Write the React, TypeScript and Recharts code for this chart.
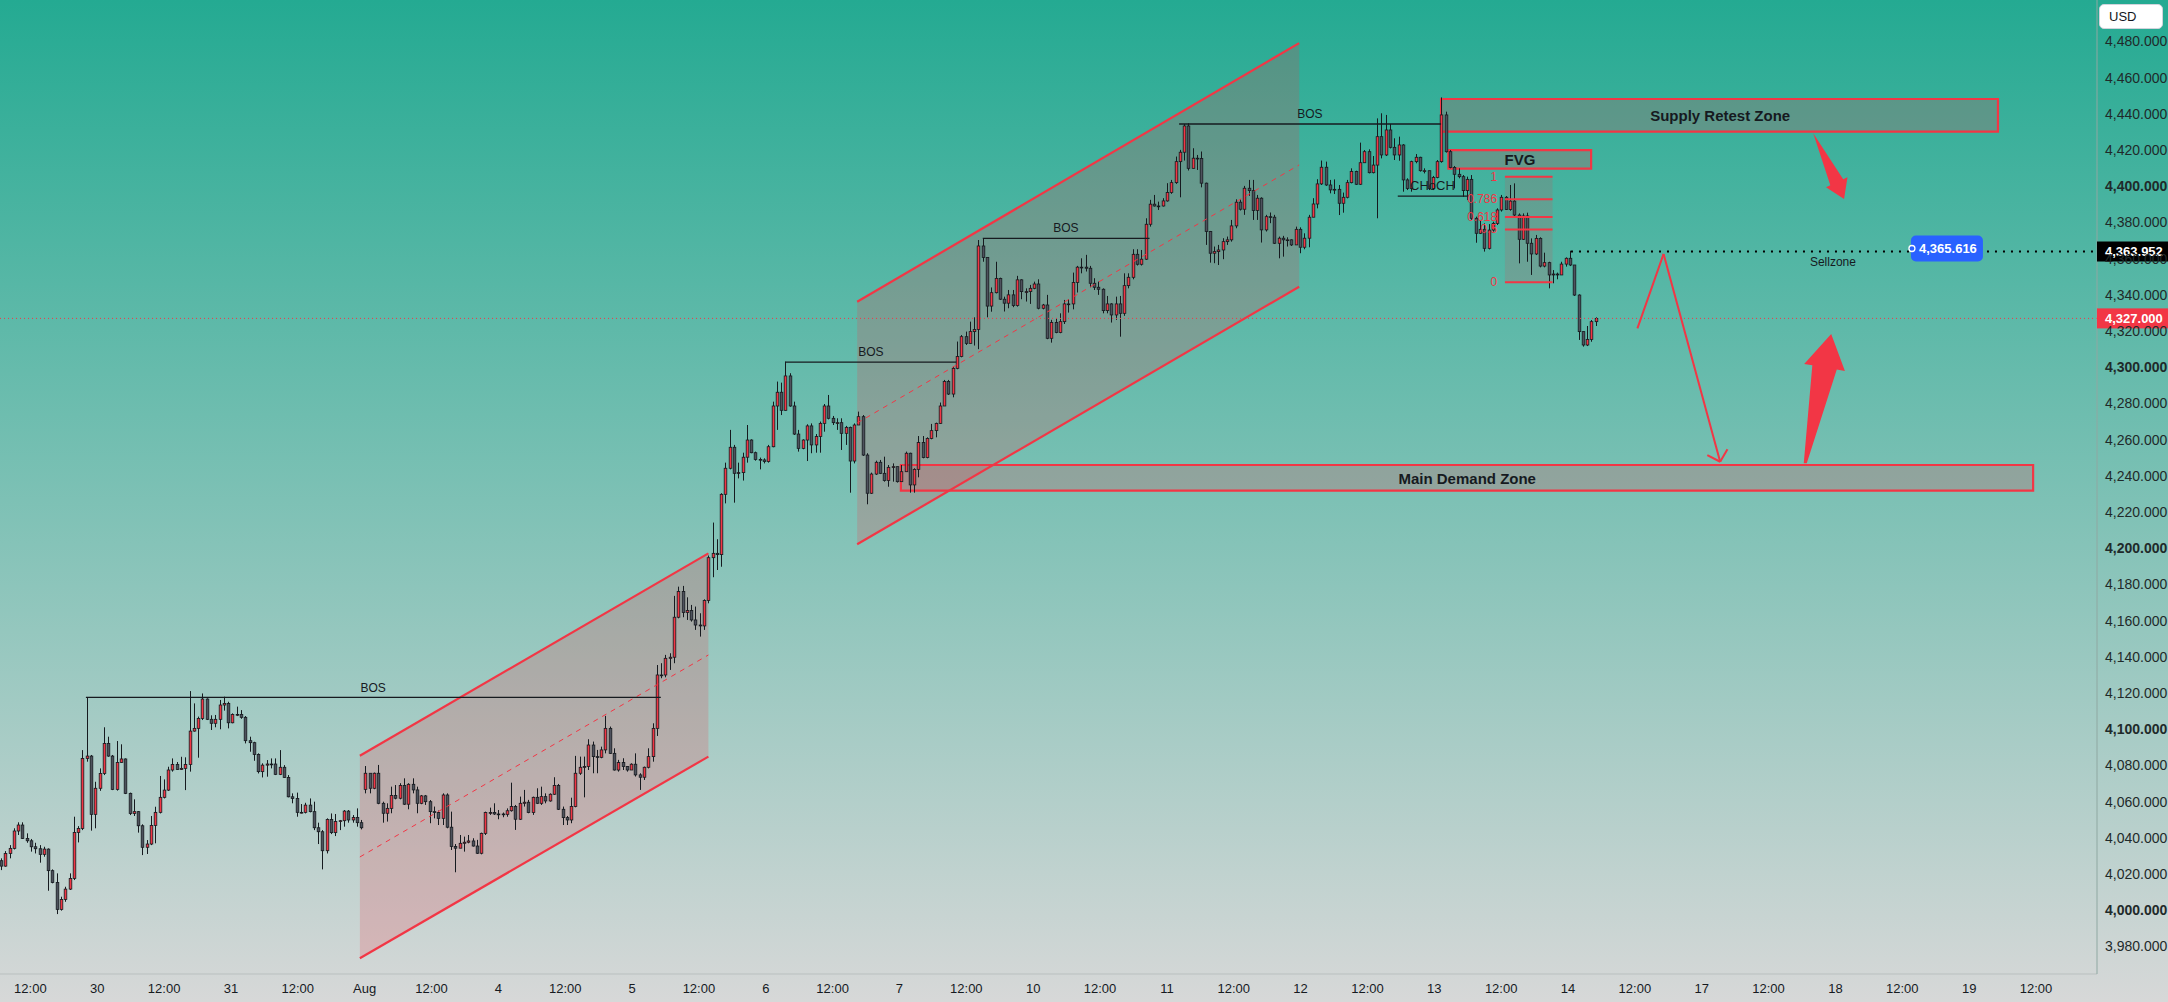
import React from "react";
import {
  ComposedChart,
  Bar,
  XAxis,
  YAxis,
  ReferenceLine,
  ReferenceArea,
  ReferenceDot,
} from "recharts";

// ---- data (45 min candles, XAUUSD style) ----
const FIRST_OPEN = 4027.4;
// weekend gap: candle index -> open price
const GAP_OPENS: [number, number][] = [[85, 4066.8]];

const CLOSES = [
  4024.4, 4031.4, 4034.2, 4043.8, 4047.1, 4039.7, 4038.4, 4035.1, 4034.0, 4030.9,
  4033.8, 4021.9, 4015.4, 4000.5, 4006.0, 4011.7, 4017.6, 4043.0, 4045.2, 4083.9,
  4085.2, 4053.0, 4067.4, 4075.6, 4092.2, 4085.2, 4066.8, 4081.7, 4083.6, 4064.6,
  4053.5, 4054.5, 4046.7, 4034.8, 4036.6, 4046.9, 4054.1, 4062.4, 4066.4, 4077.5,
  4080.6, 4077.8, 4078.4, 4080.6, 4099.0, 4100.5, 4106.0, 4116.7, 4105.5, 4103.3,
  4105.5, 4113.4, 4114.3, 4103.6, 4108.2, 4108.2, 4106.6, 4093.7, 4092.6, 4086.1,
  4076.6, 4080.2, 4080.8, 4080.8, 4075.1, 4079.0, 4073.4, 4062.7, 4061.8, 4054.1,
  4054.1, 4058.1, 4054.5, 4045.6, 4043.4, 4032.9, 4050.2, 4042.9, 4049.0, 4049.5,
  4054.8, 4049.9, 4051.3, 4048.4, 4045.6, 4075.7, 4067.4, 4075.7, 4059.1, 4053.6,
  4056.3, 4063.4, 4061.9, 4068.9, 4058.6, 4069.6, 4066.5, 4059.1, 4063.2, 4060.0,
  4054.5, 4054.0, 4050.8, 4063.7, 4045.9, 4035.2, 4034.3, 4037.0, 4037.6, 4038.3,
  4035.5, 4031.5, 4042.5, 4054.0, 4054.0, 4053.2, 4053.2, 4053.0, 4055.0, 4057.3,
  4050.3, 4059.1, 4059.7, 4054.0, 4062.4, 4059.1, 4062.8, 4060.4, 4064.1, 4068.9,
  4055.8, 4051.2, 4049.9, 4057.3, 4075.7, 4079.0, 4079.4, 4091.3, 4084.9, 4084.5,
  4088.6, 4100.5, 4086.7, 4077.5, 4081.6, 4079.4, 4077.5, 4080.7, 4074.8, 4073.5,
  4079.0, 4084.9, 4100.5, 4130.0, 4130.0, 4139.2, 4139.8, 4161.9, 4176.1, 4164.5,
  4165.6, 4160.4, 4157.6, 4157.1, 4171.1, 4194.8, 4197.2, 4196.5, 4229.8, 4244.2,
  4255.8, 4241.4, 4241.8, 4250.3, 4259.8, 4252.8, 4249.1, 4248.8, 4247.9, 4256.1,
  4278.6, 4286.2, 4276.2, 4295.2, 4278.6, 4263.1, 4255.2, 4259.8, 4267.6, 4257.1,
  4261.7, 4269.0, 4278.6, 4271.8, 4269.4, 4269.4, 4263.5, 4266.8, 4248.2, 4268.1,
  4272.7, 4251.5, 4230.4, 4241.0, 4247.5, 4241.4, 4237.4, 4244.7, 4245.1, 4236.8,
  4242.3, 4252.5, 4235.0, 4243.6, 4258.4, 4250.1, 4260.7, 4265.0, 4269.0, 4278.6,
  4292.1, 4285.2, 4299.4, 4305.9, 4316.9, 4313.2, 4319.7, 4320.9, 4367.0, 4360.7,
  4333.8, 4341.2, 4349.1, 4337.6, 4335.4, 4340.0, 4334.1, 4348.3, 4341.8, 4341.8,
  4343.6, 4346.0, 4332.6, 4334.4, 4316.0, 4324.7, 4319.2, 4325.2, 4335.0, 4335.0,
  4346.8, 4355.3, 4355.3, 4354.7, 4346.4, 4344.2, 4343.1, 4331.3, 4335.0, 4328.9,
  4335.0, 4329.8, 4345.1, 4349.7, 4362.4, 4356.9, 4359.7, 4379.0, 4390.1, 4389.1,
  4389.1, 4391.9, 4396.5, 4402.0, 4413.6, 4418.8, 4433.3, 4409.9, 4415.5, 4415.3,
  4401.7, 4375.0, 4363.0, 4363.9, 4364.8, 4369.4, 4370.4, 4378.1, 4391.2, 4387.3,
  4398.9, 4397.6, 4386.6, 4393.4, 4375.9, 4383.2, 4382.9, 4368.5, 4371.3, 4370.4,
  4370.4, 4367.6, 4376.2, 4366.3, 4371.3, 4382.9, 4390.2, 4401.3, 4410.5, 4400.7,
  4398.0, 4398.3, 4390.6, 4393.9, 4402.0, 4408.1, 4401.1, 4413.0, 4419.1, 4407.5,
  4411.7, 4427.4, 4417.3, 4431.1, 4421.5, 4417.3, 4422.8, 4403.5, 4398.8, 4413.6,
  4416.0, 4408.6, 4408.6, 4398.8, 4404.9, 4413.6, 4439.4, 4419.1, 4410.4, 4406.6,
  4405.3, 4397.6, 4403.8, 4382.3, 4374.0, 4376.2, 4365.7, 4375.8, 4379.5, 4386.9,
  4393.9, 4387.2, 4391.8, 4384.1, 4370.7, 4383.6, 4368.5, 4362.6, 4371.2, 4355.9,
  4357.8, 4351.0, 4351.5, 4351.0, 4357.0, 4360.2, 4356.5, 4339.9, 4319.7, 4312.3,
  4315.4, 4325.2, 4327.0,
];

const HIGHS = [
  4028.7, 4032.7, 4036.0, 4045.3, 4048.6, 4048.6, 4042.5, 4039.4, 4037.3, 4036.0,
  4035.1, 4034.2, 4022.6, 4020.4, 4007.5, 4013.0, 4020.4, 4051.7, 4046.5, 4088.5,
  4117.6, 4085.8, 4071.0, 4078.4, 4101.1, 4095.9, 4085.8, 4093.5, 4091.7, 4083.9,
  4065.0, 4061.3, 4054.8, 4047.5, 4038.8, 4052.1, 4057.2, 4074.2, 4072.3, 4079.3,
  4083.9, 4081.9, 4084.8, 4084.5, 4121.1, 4114.3, 4107.0, 4119.8, 4117.1, 4107.7,
  4107.9, 4116.2, 4118.0, 4115.2, 4108.8, 4112.5, 4110.6, 4107.3, 4095.9, 4093.1,
  4086.7, 4081.2, 4083.0, 4083.9, 4083.9, 4088.5, 4080.2, 4074.7, 4064.6, 4065.0,
  4058.7, 4059.4, 4061.8, 4060.0, 4048.4, 4044.3, 4050.8, 4053.5, 4053.2, 4049.9,
  4055.4, 4055.4, 4052.6, 4056.3, 4049.9, 4079.7, 4070.2, 4076.1, 4080.3, 4060.0,
  4059.1, 4068.3, 4069.2, 4070.2, 4072.9, 4070.2, 4072.9, 4068.3, 4063.7, 4063.7,
  4060.9, 4057.3, 4055.1, 4064.6, 4064.6, 4054.5, 4036.6, 4041.6, 4040.7, 4041.6,
  4039.8, 4038.9, 4042.9, 4054.5, 4056.7, 4059.1, 4055.4, 4054.0, 4056.3, 4070.5,
  4058.2, 4062.8, 4066.5, 4061.0, 4062.8, 4067.4, 4068.3, 4064.6, 4064.6, 4073.5,
  4069.8, 4057.3, 4052.1, 4062.2, 4085.3, 4084.9, 4084.9, 4094.5, 4093.2, 4088.6,
  4090.4, 4107.4, 4101.5, 4089.5, 4083.1, 4084.0, 4079.7, 4081.2, 4086.7, 4075.7,
  4079.4, 4089.5, 4103.3, 4135.5, 4136.5, 4141.1, 4142.0, 4173.7, 4178.8, 4179.2,
  4172.9, 4168.7, 4167.8, 4164.1, 4171.8, 4196.0, 4214.2, 4205.0, 4230.4, 4247.3,
  4265.4, 4257.1, 4247.3, 4252.8, 4268.1, 4260.2, 4253.4, 4250.1, 4249.7, 4257.1,
  4281.0, 4292.1, 4291.5, 4303.1, 4296.7, 4281.0, 4265.4, 4260.2, 4268.5, 4269.0,
  4263.1, 4270.0, 4279.7, 4284.7, 4273.1, 4271.8, 4271.8, 4267.6, 4267.2, 4269.0,
  4275.5, 4273.6, 4252.5, 4241.8, 4248.4, 4248.8, 4250.6, 4246.0, 4246.9, 4243.3,
  4246.0, 4253.4, 4252.8, 4244.2, 4262.0, 4262.0, 4261.3, 4268.7, 4269.4, 4280.5,
  4293.0, 4293.0, 4300.3, 4314.2, 4317.8, 4319.7, 4325.2, 4327.6, 4370.3, 4371.2,
  4355.9, 4344.1, 4358.3, 4349.5, 4339.0, 4342.7, 4342.7, 4350.5, 4348.6, 4343.6,
  4345.5, 4347.3, 4348.6, 4335.0, 4340.0, 4326.2, 4327.1, 4329.8, 4337.2, 4337.6,
  4352.3, 4356.0, 4360.2, 4362.1, 4356.0, 4349.2, 4347.3, 4343.6, 4339.4, 4335.4,
  4339.0, 4339.4, 4351.9, 4351.9, 4365.2, 4365.2, 4364.8, 4382.3, 4392.5, 4395.2,
  4391.5, 4393.4, 4401.7, 4403.5, 4416.4, 4420.1, 4434.4, 4434.8, 4421.0, 4417.3,
  4419.2, 4402.0, 4375.3, 4366.7, 4367.6, 4371.3, 4372.2, 4381.4, 4392.8, 4392.8,
  4400.2, 4403.5, 4403.5, 4395.2, 4393.9, 4384.2, 4385.5, 4384.2, 4372.2, 4372.6,
  4371.8, 4370.7, 4377.7, 4377.3, 4374.0, 4384.2, 4393.4, 4403.9, 4414.2, 4413.6,
  4403.5, 4403.8, 4400.7, 4396.5, 4403.5, 4409.9, 4408.6, 4424.1, 4420.0, 4420.4,
  4416.7, 4437.5, 4440.3, 4439.4, 4434.4, 4426.5, 4427.4, 4423.3, 4404.4, 4414.1,
  4417.8, 4416.3, 4409.9, 4405.3, 4405.7, 4414.5, 4449.1, 4441.2, 4420.0, 4411.2,
  4409.9, 4406.2, 4405.3, 4406.2, 4383.2, 4381.4, 4379.5, 4379.1, 4380.4, 4387.8,
  4395.2, 4394.6, 4400.7, 4401.6, 4385.0, 4385.0, 4385.4, 4371.2, 4373.1, 4371.8,
  4363.3, 4358.3, 4353.7, 4352.3, 4358.3, 4360.7, 4364.4, 4356.5, 4340.3, 4319.7,
  4322.8, 4326.1, 4327.6,
];

const LOWS = [
  4022.2, 4024.1, 4028.7, 4033.6, 4041.6, 4039.4, 4037.3, 4032.4, 4031.4, 4026.3,
  4029.6, 4010.8, 4014.9, 3997.9, 3999.8, 4004.7, 4011.2, 4016.7, 4037.5, 4044.3,
  4082.1, 4044.0, 4045.3, 4066.0, 4074.7, 4084.8, 4066.4, 4066.1, 4081.5, 4064.2,
  4052.6, 4052.1, 4042.9, 4030.5, 4031.1, 4036.0, 4037.0, 4053.5, 4061.8, 4065.9,
  4076.6, 4077.5, 4077.5, 4066.4, 4076.6, 4098.7, 4084.3, 4105.1, 4105.1, 4099.6,
  4101.1, 4100.0, 4110.3, 4100.5, 4103.3, 4107.3, 4105.8, 4092.2, 4087.6, 4082.6,
  4075.6, 4073.4, 4073.8, 4078.4, 4074.7, 4074.7, 4073.2, 4062.4, 4059.1, 4051.7,
  4053.5, 4053.5, 4054.1, 4044.3, 4036.6, 4022.6, 4031.4, 4042.1, 4041.0, 4044.3,
  4046.2, 4048.4, 4048.4, 4046.2, 4044.7, 4064.6, 4064.6, 4066.9, 4058.6, 4048.4,
  4049.0, 4053.6, 4061.3, 4061.3, 4058.2, 4055.8, 4064.6, 4053.6, 4058.6, 4058.2,
  4048.1, 4050.8, 4047.1, 4047.1, 4045.3, 4033.3, 4021.0, 4034.3, 4032.4, 4037.0,
  4035.2, 4031.1, 4030.9, 4041.6, 4052.7, 4052.7, 4050.3, 4051.4, 4051.7, 4054.5,
  4044.4, 4049.9, 4057.3, 4053.6, 4052.7, 4058.7, 4058.2, 4059.1, 4060.0, 4063.7,
  4055.4, 4047.1, 4047.1, 4048.1, 4056.9, 4074.8, 4062.4, 4077.5, 4075.7, 4075.7,
  4084.0, 4086.7, 4086.4, 4077.2, 4076.6, 4077.5, 4076.6, 4077.5, 4073.9, 4066.5,
  4072.0, 4078.4, 4082.1, 4096.3, 4128.2, 4128.7, 4132.8, 4136.5, 4161.3, 4161.9,
  4160.4, 4159.5, 4154.9, 4151.2, 4154.9, 4169.6, 4184.0, 4188.0, 4189.8, 4224.8,
  4243.6, 4225.2, 4238.6, 4237.4, 4247.3, 4252.5, 4248.4, 4243.6, 4246.9, 4247.3,
  4255.8, 4265.4, 4273.6, 4276.0, 4278.2, 4262.6, 4253.4, 4254.7, 4248.2, 4252.5,
  4252.8, 4252.8, 4264.4, 4271.2, 4268.1, 4265.4, 4254.3, 4257.1, 4230.7, 4246.9,
  4268.1, 4251.0, 4224.3, 4230.0, 4240.5, 4241.0, 4236.8, 4234.0, 4236.8, 4236.3,
  4239.6, 4244.7, 4230.7, 4230.7, 4239.2, 4249.7, 4249.7, 4260.2, 4261.3, 4268.7,
  4278.6, 4284.7, 4283.4, 4298.9, 4305.5, 4312.3, 4313.2, 4312.0, 4310.0, 4358.3,
  4327.6, 4330.7, 4340.8, 4337.2, 4330.8, 4332.6, 4333.2, 4333.5, 4337.6, 4336.3,
  4335.0, 4343.1, 4332.0, 4332.0, 4315.5, 4313.6, 4318.8, 4318.8, 4323.9, 4330.2,
  4332.0, 4341.3, 4351.9, 4352.9, 4344.2, 4342.7, 4340.0, 4329.8, 4329.8, 4324.7,
  4326.2, 4316.9, 4328.4, 4343.6, 4348.6, 4356.2, 4356.2, 4359.3, 4377.7, 4388.8,
  4386.9, 4388.8, 4391.5, 4395.8, 4401.3, 4393.9, 4414.2, 4408.7, 4409.9, 4409.0,
  4399.4, 4367.6, 4357.8, 4357.5, 4356.5, 4359.7, 4367.6, 4369.4, 4376.8, 4386.6,
  4384.2, 4394.7, 4381.4, 4381.4, 4368.9, 4375.0, 4379.6, 4368.1, 4360.2, 4361.1,
  4366.7, 4367.0, 4371.3, 4363.0, 4365.2, 4366.3, 4385.1, 4387.8, 4400.7, 4400.2,
  4396.1, 4395.7, 4384.1, 4385.4, 4393.3, 4401.6, 4400.7, 4400.7, 4413.0, 4407.1,
  4407.1, 4382.3, 4415.4, 4416.7, 4420.9, 4414.5, 4414.1, 4397.0, 4397.9, 4397.0,
  4412.7, 4408.1, 4407.1, 4397.9, 4397.9, 4404.4, 4413.0, 4418.6, 4409.9, 4398.8,
  4404.4, 4394.2, 4392.4, 4381.4, 4368.8, 4373.6, 4363.9, 4365.1, 4374.9, 4378.6,
  4386.0, 4386.9, 4386.5, 4383.2, 4357.4, 4370.3, 4358.3, 4351.0, 4362.0, 4355.2,
  4355.2, 4343.6, 4346.4, 4348.6, 4352.3, 4355.6, 4355.9, 4339.4, 4315.1, 4311.4,
  4311.7, 4314.1, 4322.8,
];

const PRICE_TICKS = [
  3980, 4000, 4020, 4040, 4060, 4080, 4100, 4120, 4140, 4160, 4180, 4200, 4220,
  4240, 4260, 4280, 4300, 4320, 4340, 4360, 4380, 4400, 4420, 4440, 4460, 4480,
];

const TIME_LABELS = [
  "12:00", "30", "12:00", "31", "12:00", "Aug", "12:00", "4", "12:00", "5",
  "12:00", "6", "12:00", "7", "12:00", "10", "12:00", "11", "12:00", "12",
  "12:00", "13", "12:00", "14", "12:00", "17", "12:00", "18", "12:00", "19",
  "12:00",
];

// annotation levels (price)
const LAST_PRICE = 4327.0;
const SELLZONE_PRICE = 4363.952;
const NOTE_PRICE = 4365.616;
const BOS_LEVELS = [4117.6, 4302.8, 4371.2, 4434.4];
const CHOCH_LEVEL = 4394.5;
const FIB_LEVELS: [string, number][] = [
  ["1", 4405.3],
  ["0.786", 4392.8],
  ["0.618", 4383.0],
  ["0.5", 4376.15],
  ["0", 4347.0],
];

// ---- layout ----
const W = 2168;
const H = 1002;
const X_MIN = -0.14;
const X_MAX = 489.0;
const Y_MIN = 3964.8;
const Y_MAX = 4502.9;
const TICK_START = 6.95;
const TICK_STEP = 15.594;
const TICK_POS = TIME_LABELS.map((_, k) => TICK_START + k * TICK_STEP);

const RED = "#f23645";
const UP = "#f23645";
const DOWN = "#4e525d";
const INK = "#161a1f";
const FONT = "'Liberation Sans', Arial, sans-serif";

const candles = CLOSES.map((c, i) => {
  const gap = GAP_OPENS.find((g) => g[0] === i);
  const o = gap ? gap[1] : i === 0 ? FIRST_OPEN : CLOSES[i - 1];
  const h = Math.max(HIGHS[i], o, c);
  const l = Math.min(LOWS[i], o, c);
  return { i, o, c, h, l, range: [l, h] };
});

const fmt = (v: number) =>
  v.toLocaleString("en-US", { minimumFractionDigits: 3, maximumFractionDigits: 3 });

const Candle = (props: any) => {
  const { x, y, width, height, payload } = props;
  if (x == null || !payload) return null;
  const { o, c, h, l } = payload;
  const cx = Math.round(x + width / 2) + 0.5;
  const top = Math.min(y, y + height);
  const full = Math.abs(height);
  const span = h - l;
  const py = (v: number) => (span > 0 ? top + ((h - v) / span) * full : top);
  const bTop = py(Math.max(o, c));
  const bBot = py(Math.min(o, c));
  return (
    <g>
      <line x1={cx} x2={cx} y1={py(h)} y2={py(l)} stroke={INK} strokeWidth={1} />
      <rect
        x={cx - 1.3}
        y={bTop}
        width={2.6}
        height={Math.max(bBot - bTop, 0.8)}
        fill={c >= o ? UP : DOWN}
        stroke={INK}
        strokeWidth={0.8}
      />
    </g>
  );
};

// polygon drawn inside the bounding ReferenceArea
const poly = (key: string, pts: number[][], fill: string, opacity: number) => {
  const xs = pts.map((p) => p[0]);
  const ys = pts.map((p) => p[1]);
  const x0 = Math.min(...xs);
  const x1 = Math.max(...xs);
  const y0 = Math.min(...ys);
  const y1 = Math.max(...ys);
  const shape = (r: any) => {
    const d = pts
      .map(
        ([a, b]) =>
          `${r.x + ((a - x0) / (x1 - x0)) * r.width},${r.y + ((y1 - b) / (y1 - y0)) * r.height}`
      )
      .join(" ");
    return <polygon points={d} fill={fill} fillOpacity={opacity} stroke="none" />;
  };
  return (
    <ReferenceArea key={key} x1={x0} x2={x1} y1={y0} y2={y1} ifOverflow="visible" shape={shape} />
  );
};

const seg = (
  key: string,
  a: number[],
  b: number[],
  stroke: string,
  width = 2,
  dash?: string
) => (
  <ReferenceLine
    key={key}
    segment={[
      { x: a[0], y: a[1] },
      { x: b[0], y: b[1] },
    ]}
    stroke={stroke}
    strokeWidth={width}
    strokeDasharray={dash}
    ifOverflow="visible"
  />
);

const label = (
  key: string,
  x: number,
  y: number,
  text: string,
  opts: { size?: number; weight?: number; color?: string; anchor?: string } = {}
) => (
  <ReferenceDot
    key={key}
    x={x}
    y={y}
    r={0}
    ifOverflow="visible"
    shape={(p: any) => (
      <text
        x={p.cx}
        y={p.cy}
        textAnchor={opts.anchor || "middle"}
        dominantBaseline="central"
        fontSize={opts.size || 12}
        fontWeight={opts.weight || 400}
        fill={opts.color || INK}
        fontFamily={FONT}
      >
        {text}
      </text>
    )}
  />
);

const axisBadge = (key: string, price: number, bg: string) => (
  <ReferenceDot
    key={key}
    x={X_MAX}
    y={price}
    r={0}
    ifOverflow="visible"
    shape={(p: any) => (
      <g>
        <rect x={p.cx} y={p.cy - 10} width={71} height={20} fill={bg} />
        <text
          x={p.cx + 8}
          y={p.cy}
          dominantBaseline="central"
          fontSize={13}
          fontWeight={700}
          fill="#ffffff"
          fontFamily={FONT}
        >
          {fmt(price)}
        </text>
      </g>
    )}
  />
);

const PriceTick = (p: any) => {
  const v = p.payload.value;
  return (
    <text
      x={2105}
      y={p.y}
      dominantBaseline="central"
      fontSize={14}
      fontWeight={v % 100 === 0 ? 700 : 400}
      fill="#1f2a2a"
      fontFamily={FONT}
    >
      {fmt(v)}
    </text>
  );
};

const TimeTick = (p: any) => {
  const k = Math.round((p.payload.value - TICK_START) / TICK_STEP);
  return (
    <text
      x={p.x}
      y={988}
      textAnchor="middle"
      dominantBaseline="central"
      fontSize={13}
      fill={INK}
      fontFamily={FONT}
    >
      {TIME_LABELS[k]}
    </text>
  );
};

// channel: [xLeft, xRight, lowerL, lowerR, upperL, upperR]
const CHANNEL_A = [83.8, 165.1, 3973.5, 4084.9, 4085.4, 4197.2];
const CHANNEL_B = [199.8, 302.9, 4202.2, 4344.5, 4336.2, 4479.1];

const DOWN_ARROW = [
  [422.8, 4429.3], [426.8, 4400.6], [425.8, 4399.4], [430.0, 4393.0],
  [430.8, 4405.0], [429.8, 4403.9],
];
const UP_ARROW = [
  [420.6, 4247.0], [422.6, 4301.1], [420.7, 4301.8], [427.0, 4318.4],
  [430.2, 4297.9], [428.3, 4298.7], [421.3, 4247.0],
];
const PATH = [
  [381.8, 4321.5],
  [387.9, 4362.6],
  [401.1, 4247.8],
];

const channel = (key: string, ch: number[]) => {
  const [xl, xr, lo1, lo2, hi1, hi2] = ch;
  return [
    poly(key + "f", [[xl, lo1], [xr, lo2], [xr, hi2], [xl, hi1]], RED, 0.2),
    seg(key + "u", [xl, hi1], [xr, hi2], RED, 2.2),
    seg(key + "l", [xl, lo1], [xr, lo2], RED, 2.2),
    seg(key + "m", [xl, (lo1 + hi1) / 2], [xr, (lo2 + hi2) / 2], RED, 1, "5 5"),
  ];
};

const zone = (key: string, x1: number, x2: number, y1: number, y2: number) => (
  <ReferenceArea
    key={key}
    x1={x1}
    x2={x2}
    y1={y1}
    y2={y2}
    fill={RED}
    fillOpacity={0.2}
    stroke={RED}
    strokeWidth={2.2}
    ifOverflow="visible"
  />
);

const App: React.FC = () => {
  return (
    <div
      style={{
        position: "fixed",
        left: 0,
        top: 0,
        width: W,
        height: H,
        background: "linear-gradient(180deg, #24aa92 0%, #d7d8d8 100%)",
        fontFamily: FONT,
      }}
    >
      <ComposedChart
        width={W}
        height={H}
        data={candles}
        margin={{ top: 0, right: 0, bottom: 0, left: 0 }}
      >
        <XAxis
          dataKey="i"
          type="number"
          domain={[X_MIN, X_MAX]}
          allowDataOverflow
          ticks={TICK_POS}
          interval={0}
          tickLine={false}
          axisLine={{ stroke: "#b9bfbf" }}
          height={28}
          tick={TimeTick}
        />
        <YAxis
          orientation="right"
          type="number"
          domain={[Y_MIN, Y_MAX]}
          allowDataOverflow
          ticks={PRICE_TICKS}
          interval={0}
          width={71}
          tickLine={false}
          axisLine={{ stroke: "#8fa8a2" }}
          tick={PriceTick}
        />

        {channel("chA", CHANNEL_A)}
        {channel("chB", CHANNEL_B)}

        {zone("supply", 336.0, 465.9, 4430.2, 4448.2)}
        {zone("fvg", 337.7, 371.0, 4409.7, 4420.0)}
        {zone("demand", 210.0, 474.1, 4231.8, 4246.0)}

        <ReferenceArea
          x1={350.9}
          x2={362.0}
          y1={4347.0}
          y2={4405.3}
          fill={RED}
          fillOpacity={0.15}
          stroke="none"
          ifOverflow="visible"
        />
        {FIB_LEVELS.map(([name, v]) => seg("fib" + name, [350.9, v], [362.0, v], RED, 2))}
        {FIB_LEVELS.map(([name, v]) =>
          label("fibt" + name, 349.1, v, name, { size: 12, color: RED, anchor: "end" })
        )}

        {seg("bos1", [19.9, BOS_LEVELS[0]], [154.0, BOS_LEVELS[0]], INK, 1.3)}
        {seg("bos2", [183.0, BOS_LEVELS[1]], [222.9, BOS_LEVELS[1]], INK, 1.3)}
        {seg("bos3", [229.1, BOS_LEVELS[2]], [268.0, BOS_LEVELS[2]], INK, 1.3)}
        {seg("bos4", [274.9, BOS_LEVELS[3]], [336.0, BOS_LEVELS[3]], INK, 1.3)}
        {seg("choch", [325.9, CHOCH_LEVEL], [342.4, CHOCH_LEVEL], INK, 1.3)}
        {label("bos1t", 86.9, 4122.7, "BOS")}
        {label("bos2t", 203.0, 4308.6, "BOS")}
        {label("bos3t", 248.5, 4377.1, "BOS")}
        {label("bos4t", 305.4, 4440.1, "BOS")}
        {label("chocht", 334.0, 4400.2, "CHoCH", { size: 13 })}

        <ReferenceLine
          y={LAST_PRICE}
          stroke={RED}
          strokeWidth={1}
          strokeDasharray="1 3"
          ifOverflow="visible"
        />
        {seg("sell", [366.3, SELLZONE_PRICE], [X_MAX, SELLZONE_PRICE], "#000000", 2, "2 6")}

        <Bar dataKey="range" barSize={3} isAnimationActive={false} shape={Candle} />

        {label("supplyt", 401.1, 4439.0, "Supply Retest Zone", { size: 15, weight: 700 })}
        {label("fvgt", 354.4, 4414.9, "FVG", { size: 15, weight: 700 })}
        {label("demandt", 342.1, 4238.6, "Main Demand Zone", { size: 15, weight: 700 })}
        {label("sellt", 427.4, 4358.3, "Sellzone", { size: 12 })}

        {seg("p1", PATH[0], PATH[1], RED, 2)}
        {seg("p2", PATH[1], PATH[2], RED, 2)}
        {seg("p3", [398.1, 4251.5], PATH[2], RED, 2)}
        {seg("p4", [402.8, 4254.7], PATH[2], RED, 2)}
        {poly("arrDown", DOWN_ARROW, RED, 1)}
        {poly("arrUp", UP_ARROW, RED, 1)}

        <ReferenceDot
          x={445.6}
          y={NOTE_PRICE}
          r={0}
          ifOverflow="visible"
          shape={(p: any) => (
            <g>
              <rect x={p.cx} y={p.cy - 13} width={72} height={26} rx={5} fill="#2962ff" />
              <circle cx={p.cx + 1} cy={p.cy} r={3} fill="#2962ff" stroke="#ffffff" strokeWidth={1.3} />
              <text
                x={p.cx + 37}
                y={p.cy}
                textAnchor="middle"
                dominantBaseline="central"
                fontSize={13}
                fontWeight={700}
                fill="#ffffff"
                fontFamily={FONT}
              >
                {fmt(NOTE_PRICE)}
              </text>
            </g>
          )}
        />

        {axisBadge("badgeSell", SELLZONE_PRICE, "#000000")}
        {axisBadge("badgeLast", LAST_PRICE, RED)}
      </ComposedChart>
      <div
        style={{
          position: "absolute",
          left: 2099,
          top: 4,
          width: 64,
          height: 25,
          boxSizing: "border-box",
          background: "#ffffff",
          border: "1px solid #d1d4dc",
          borderRadius: 5,
          fontSize: 13,
          lineHeight: "23px",
          paddingLeft: 9,
          color: "#131722",
        }}
      >
        USD
      </div>
    </div>
  );
};

export default App;
